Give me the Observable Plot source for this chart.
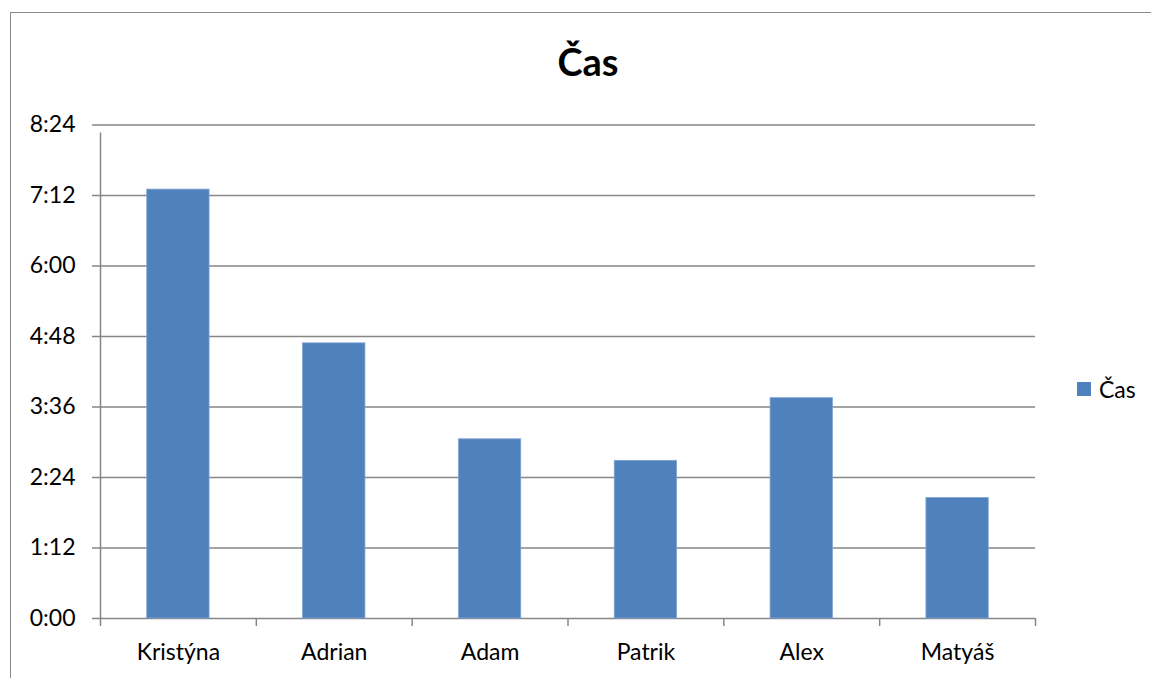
<!DOCTYPE html>
<html>
<head>
<meta charset="utf-8">
<script src="https://cdn.jsdelivr.net/npm/d3@7"></script>
<script src="https://cdn.jsdelivr.net/npm/@observablehq/plot@0.6"></script>
<style>
  html, body { margin: 0; padding: 0; background: #fff; }
  #wrap { position: relative; width: 1151px; height: 678px; overflow: hidden; font-family: Lato, "Open Sans", sans-serif; }
  #border { position: absolute; left: 10px; top: 12px; width: 1200px; height: 720px; border: 1.5px solid #8a8a8a; box-sizing: border-box; }
  #title { position: absolute; left: 0; top: 38px; width: 1176px; text-align: center; font-size: 38px; font-weight: bold; color: #000; }
  #legend { position: absolute; left: 1077px; top: 375px; font-size: 23px; color: #000; display: flex; align-items: center; }
  #legend span.sw { display: inline-block; width: 14px; height: 14px; background: #4f81bd; margin-right: 8px; }
  #chart { position: absolute; left: 0; top: 0; }
</style>
</head>
<body>
<div id="wrap">
  <div id="border"></div>
  <div id="chart"></div>
  <div id="title">Čas</div>
  <div id="legend"><span class="sw"></span><span>Čas</span></div>
</div>
<script>
// Data (time in seconds, shown as m:ss)
const names = ["Kristýna", "Adrian", "Adam", "Patrik", "Alex", "Matyáš"];
const times = [438, 281, 183, 161, 225, 123];
const tickValues = [0, 72, 144, 216, 288, 360, 432, 504];
const seriesName = "Čas";

const data = names.map((n, i) => ({name: n, time: times[i]}));
const fmt = s => `${Math.floor(s / 60)}:${String(s % 60).padStart(2, "0")}`;

const W = 1151, H = 678;
const mL = 100, mR = 116, mT = 124.5, mB = 60;
const step = (W - mL - mR) / names.length;

const chart = Plot.plot({
  width: W,
  height: H,
  marginLeft: mL,
  marginRight: mR,
  marginTop: mT,
  marginBottom: mB,
  style: {fontFamily: "Lato, 'Open Sans', sans-serif", fontSize: "23px", color: "#000", background: "transparent", overflow: "visible"},
  x: {domain: names, paddingInner: 0.6, paddingOuter: 0.3, align: 0.5, round: false, axis: null, label: null},
  y: {domain: [0, 504], axis: null, label: null},
  marks: [
    // horizontal gridlines (incl. baseline), extended left for ticks
    Plot.ruleY(tickValues, {stroke: "#868686", strokeWidth: 1.5, insetLeft: -8}),
    // left axis line
    Plot.ruleX([names[0]], {dx: -step / 2, y1: 0, y2: 504, stroke: "#868686", strokeWidth: 1.5, insetBottom: -8}),
    // category boundary ticks
    Plot.ruleX(names, {dx: -step / 2, y1: 0, y2: 0, stroke: "#868686", strokeWidth: 1.5, insetBottom: -8}),
    Plot.ruleX([names[names.length - 1]], {dx: step / 2, y1: 0, y2: 0, stroke: "#868686", strokeWidth: 1.5, insetBottom: -8}),
    // bars
    Plot.barY(data, {x: "name", y: "time", fill: "#4f81bd", stroke: "#7ea3d3", strokeWidth: 0.8}),
    // y tick labels
    Plot.axisY(tickValues, {tickSize: 0, tickPadding: 25, tickFormat: fmt, fontSize: 23, fill: "#000", label: null}),
    // x labels
    Plot.axisX({tickSize: 0, tickPadding: 25, fontSize: 23, fill: "#000", label: null})
  ]
});
document.getElementById("chart").appendChild(chart);
</script>
</body>
</html>
